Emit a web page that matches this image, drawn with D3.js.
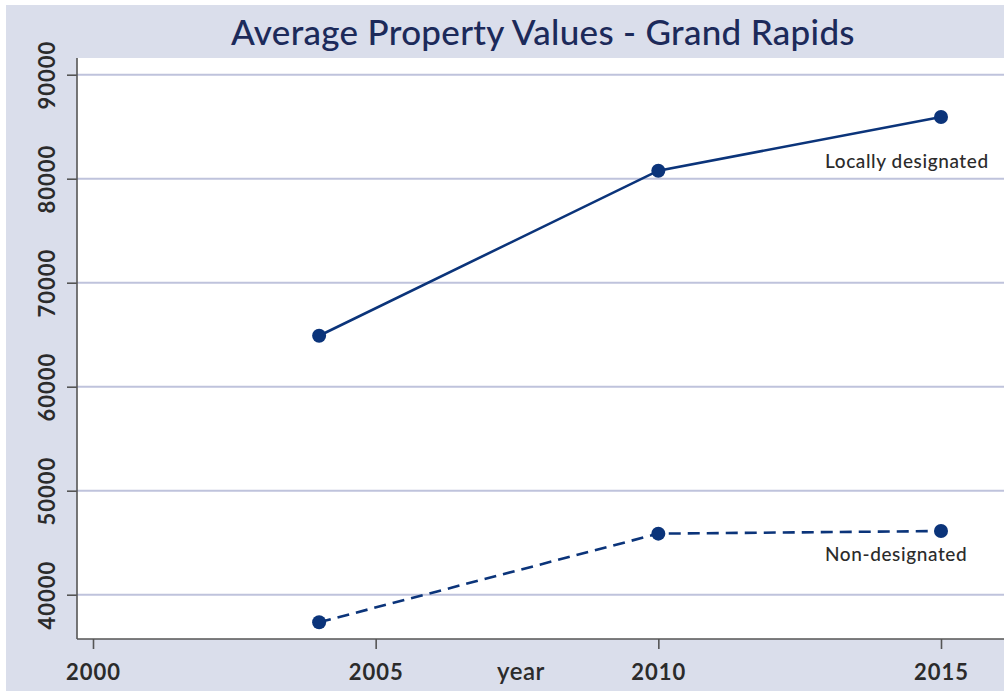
<!DOCTYPE html>
<html>
<head>
<meta charset="utf-8">
<script src="https://cdn.jsdelivr.net/npm/d3@7"></script>
<style>
  body { margin: 0; background: #fff; }
  text { font-family: Lato, "Open Sans", sans-serif; }
</style>
</head>
<body>
<div id="chart-area"></div>
<script>
// data
var years = [2004, 2010, 2015];
var locallyDesignated = [64900, 80770, 85930];
var nonDesignated = [37350, 45870, 46120];
var xTicks = [2000, 2005, 2010, 2015];
var yTicks = [40000, 50000, 60000, 70000, 80000, 90000];
var seriesNames = ["Locally designated", "Non-designated"];

var width = 1004, height = 691;
var plot = { left: 77, top: 58, bottom: 639, right: 1004 };

var svg = d3.select("#chart-area")
    .append("svg")
        .attr("width", width)
        .attr("height", height);

// outer background
svg.append("rect")
    .attr("x", 6).attr("y", 5)
    .attr("width", width - 6).attr("height", height - 5)
    .attr("fill", "#dadeeb");

svg.append("rect")
    .attr("x", plot.left).attr("y", plot.top)
    .attr("width", plot.right - plot.left).attr("height", plot.bottom - plot.top)
    .attr("fill", "#fff");

var x = d3.scaleLinear().domain([2000, 2015]).range([93, 941]);
var y = d3.scaleLinear().domain([40000, 90000]).range([594.7, 74.7]);

// gridlines
svg.append("g")
    .selectAll("line")
    .data(yTicks)
    .enter().append("line")
        .attr("x1", plot.left).attr("x2", plot.right)
        .attr("y1", function(d){ return y(d); })
        .attr("y2", function(d){ return y(d); })
        .attr("stroke", "#bfc3dc")
        .attr("stroke-width", 2);

// y axis
var yAxis = svg.append("g")
    .attr("transform", "translate(" + plot.left + ",0)")
    .call(d3.axisLeft(y).tickValues(yTicks).tickSize(10).tickFormat(d3.format("d")));
yAxis.select(".domain").remove();
yAxis.append("line")
    .attr("x1", 0).attr("x2", 0)
    .attr("y1", plot.top).attr("y2", plot.bottom)
    .attr("stroke", "#555").attr("stroke-width", 1.6);
yAxis.selectAll(".tick line").attr("stroke", "#555").attr("stroke-width", 1.6);
yAxis.selectAll(".tick text")
    .attr("x", 0).attr("dy", 0)
    .attr("transform", "translate(-22,0) rotate(-90)")
    .attr("text-anchor", "middle")
    .attr("fill", "#2b2b2b")
    .style("font-size", "22px")
    .style("font-weight", "700")
    .style("letter-spacing", "1px");

// x axis
var xAxis = svg.append("g")
    .attr("transform", "translate(0," + plot.bottom + ")")
    .call(d3.axisBottom(x).tickValues(xTicks).tickSize(10).tickFormat(d3.format("d")));
xAxis.select(".domain").remove();
xAxis.append("line")
    .attr("x1", plot.left).attr("x2", plot.right)
    .attr("y1", 0).attr("y2", 0)
    .attr("stroke", "#555").attr("stroke-width", 1.6);
xAxis.selectAll(".tick line").attr("stroke", "#555").attr("stroke-width", 1.6);
xAxis.selectAll(".tick text")
    .attr("y", 41).attr("dy", 0)
    .attr("fill", "#2b2b2b")
    .style("font-size", "22px")
    .style("font-weight", "700")
    .style("letter-spacing", "1px");

svg.append("text")
    .attr("x", 521).attr("y", 680)
    .attr("text-anchor", "middle")
    .attr("fill", "#2b2b2b")
    .style("font-size", "24px")
    .style("font-weight", "600")
    .style("letter-spacing", "0.5px")
    .text("year");

// title
svg.append("text")
    .attr("x", 543).attr("y", 45)
    .attr("text-anchor", "middle")
    .attr("fill", "#1c2a5a")
    .style("font-size", "35px")
    .style("font-weight", "500")
    .style("letter-spacing", "0.3px")
    .text("Average Property Values - Grand Rapids");

// series
var navy = "#0b347a";
var series = [
    { name: seriesNames[0], values: locallyDesignated, dash: null, labelDy: 51 },
    { name: seriesNames[1], values: nonDesignated, dash: "12,7", labelDy: 30 }
];

var line = d3.line()
    .x(function(d){ return x(d.year); })
    .y(function(d){ return y(d.value); });

series.forEach(function(s) {
    var pts = years.map(function(yr, i){ return { year: yr, value: s.values[i] }; });
    svg.append("path")
        .datum(pts)
        .attr("d", line)
        .attr("fill", "none")
        .attr("stroke", navy)
        .attr("stroke-width", 2.6)
        .attr("stroke-dasharray", s.dash);
    svg.append("g").selectAll("circle")
        .data(pts)
        .enter().append("circle")
            .attr("cx", function(d){ return x(d.year); })
            .attr("cy", function(d){ return y(d.value); })
            .attr("r", 7)
            .attr("fill", navy);
    var last = pts[pts.length - 1];
    svg.append("text")
        .attr("x", x(last.year) - 116)
        .attr("y", y(last.value) + s.labelDy)
        .attr("text-anchor", "start")
        .attr("fill", "#2b2b2b")
        .style("font-size", "19px")
        .style("font-weight", "500")
        .style("letter-spacing", "0.6px")
        .text(s.name);
});
</script>
</body>
</html>
